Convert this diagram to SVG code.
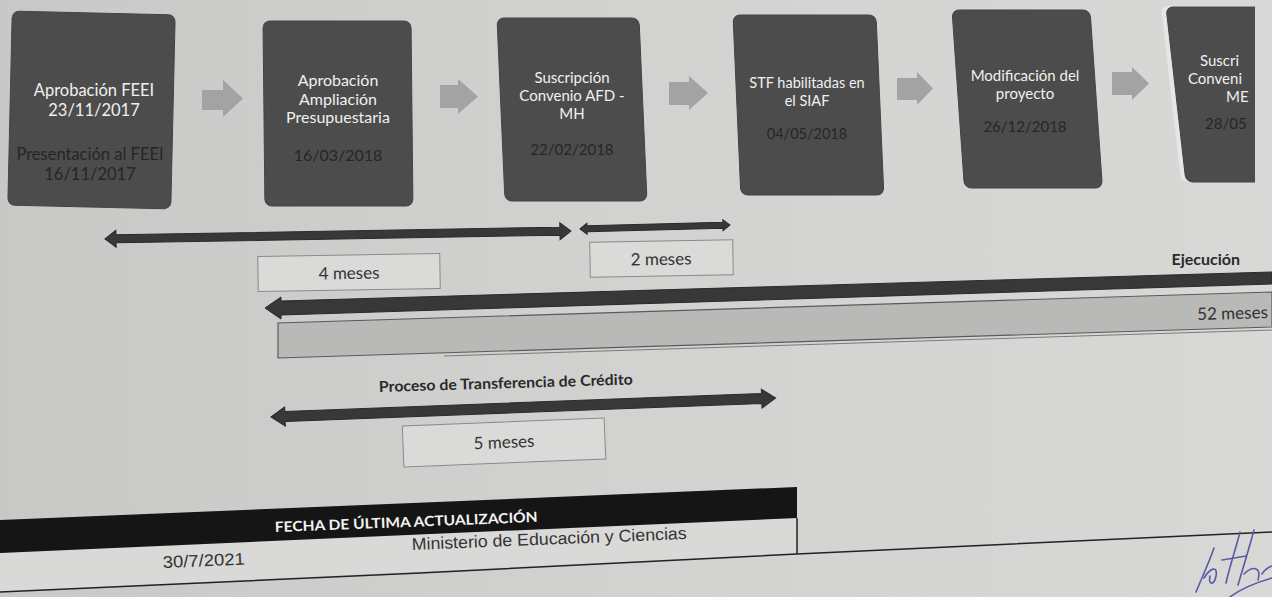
<svg xmlns="http://www.w3.org/2000/svg" width="1272" height="597" viewBox="0 0 1272 597">
<defs>
<linearGradient id="bg" x1="0" y1="0" x2="1" y2="0">
<stop offset="0" stop-color="#c8c8c6"/>
<stop offset="0.5" stop-color="#d2d2d0"/>
<stop offset="1" stop-color="#d8d8d6"/>
</linearGradient>
<clipPath id="clip6"><rect x="1150" y="0" width="105" height="200"/></clipPath>
<style>
.box{fill:#4c4c4c;stroke:#444;stroke-width:1}
.wt{font-family:Lato,"Open Sans",sans-serif;fill:#f0f0f0;text-anchor:middle}
.dt{font-family:Lato,"Open Sans",sans-serif;fill:#262626;text-anchor:middle}
.garrow{fill:#a3a3a3}
.darrow{fill:#383838;stroke:#2a2a2a;stroke-width:1}
.lbl{fill:#dadad8;stroke:#8a8a8a;stroke-width:1}
.lt{font-family:Lato,"Open Sans",sans-serif;fill:#333;font-size:17px;text-anchor:middle}
.bt{font-family:Lato,"Open Sans",sans-serif;fill:#2a2a2a;font-weight:bold}
.tt{font-family:"Liberation Sans",Arial,sans-serif;fill:#333;font-size:17px}
</style>
</defs>
<rect x="0" y="0" width="1272" height="597" fill="url(#bg)"/>

<g id="node1">
<rect class="box" x="10" y="13" width="163" height="194" rx="7" transform="rotate(1.3 91 110)"/>
<text class="wt" font-size="16.5" x="94" y="96">Aprobación FEEI</text>
<text class="wt" font-size="16.5" x="94" y="116">23/11/2017</text>
<text class="dt" font-size="16.5" x="90" y="160">Presentación al FEEI</text>
<text class="dt" font-size="16.5" x="90" y="180">16/11/2017</text>
</g>

<g id="node2">
<rect class="box" x="0" y="0" width="148" height="185" rx="7" transform="translate(263,21) skewX(0.6)"/>
<text class="wt" font-size="16" x="338" y="86">Aprobación</text>
<text class="wt" font-size="16" x="338" y="104.5">Ampliación</text>
<text class="wt" font-size="16" x="338" y="123">Presupuestaria</text>
<text class="dt" font-size="16" x="338" y="161">16/03/2018</text>
</g>

<g id="node3">
<rect class="box" x="0" y="0" width="142" height="183" rx="7" transform="translate(497,18) skewX(2.5)"/>
<text class="wt" font-size="15" x="572" y="83">Suscripción</text>
<text class="wt" font-size="15" x="572" y="101">Convenio AFD -</text>
<text class="wt" font-size="15" x="572" y="119">MH</text>
<text class="dt" font-size="15" x="572" y="155">22/02/2018</text>
</g>

<g id="node4">
<rect class="box" x="0" y="0" width="143" height="180" rx="7" transform="translate(733,15) skewX(2.5)"/>
<text class="wt" font-size="14.5" x="807" y="88">STF habilitadas en</text>
<text class="wt" font-size="14.5" x="807" y="106">el SIAF</text>
<text class="dt" font-size="14.5" x="807" y="139">04/05/2018</text>
</g>

<g id="node5">
<rect class="box" x="0" y="0" width="138" height="178" rx="7" transform="translate(952,10) skewX(4)"/>
<text class="wt" font-size="15" x="1025" y="81">Modificación del</text>
<text class="wt" font-size="15" x="1025" y="99">proyecto</text>
<text class="dt" font-size="15" x="1025" y="132">26/12/2018</text>
</g>

<g id="node6" clip-path="url(#clip6)">
<rect x="0" y="0" width="120" height="176" rx="7" fill="#e6e6e4" transform="translate(1161,6) skewX(6.5)"/>
<rect class="box" x="0" y="0" width="120" height="175" rx="7" transform="translate(1166,7) skewX(6.5)"/>
<text class="wt" font-size="15" x="1200" y="66" style="text-anchor:start">Suscri</text>
<text class="wt" font-size="15" x="1188" y="84" style="text-anchor:start">Conveni</text>
<text class="wt" font-size="15" x="1226" y="102" style="text-anchor:start">ME</text>
<text class="dt" font-size="15" x="1205" y="129" style="text-anchor:start">28/05</text>
</g>

<g id="connectors">
<polygon class="garrow" points="202,90 223,90 223,80 243,98.5 223,117 223,110 202,110"/>
<polygon class="garrow" points="440,85 458,85 458,79 478,96.5 458,114 458,108 440,108"/>
<polygon class="garrow" points="669,82 689,82 689,76 708,93 689,110 689,105 669,105"/>
<polygon class="garrow" points="897,78 917,78 917,72 933,88.5 917,105 917,100 897,100"/>
<polygon class="garrow" points="1112,72 1132,72 1132,67 1149,83.5 1132,100 1132,95 1112,95"/>

<path class="darrow" transform="translate(105,239) rotate(-0.98)" d="M0,0 L11,-8.5 L11,-4 L455,-4 L455,-8.5 L466,0 L455,8.5 L455,4 L11,4 L11,8.5 Z"/>
<path class="darrow" transform="translate(580,229) rotate(-1.5)" d="M0,0 L7,-5.5 L7,-3 L143,-3 L143,-5.5 L150,0 L143,5.5 L143,3 L7,3 L7,5.5 Z"/>
<path class="darrow" transform="translate(271,417) rotate(-2.15)" d="M0,0 L14,-9.5 L14,-5 L491,-5 L491,-9.5 L505,0 L491,9.5 L491,5 L14,5 L14,9.5 Z"/>
<polygon class="darrow" points="265,308 281,297 281,301 1272,272 1272,284 281,315 281,319"/>
</g>

<g id="labels">
<rect class="lbl" x="258" y="255" width="182" height="35" transform="rotate(-0.9 349 272)"/>
<text class="lt" x="349" y="279" transform="rotate(-0.9 349 272)">4 meses</text>
<rect class="lbl" x="590" y="241" width="143" height="35" transform="rotate(-1 661 258)"/>
<text class="lt" x="661" y="265" transform="rotate(-1 661 258)">2 meses</text>
<text class="bt" font-size="16" x="1240" y="265" text-anchor="end">Ejecución</text>
</g>

<g id="execution-bar">
<polygon points="278,323 1272,292 1272,327 278,358" fill="#b9b9b7" stroke="#5a5a5a" stroke-width="1.2"/>
<line x1="444" y1="356" x2="1272" y2="330" stroke="#7a7a7a" stroke-width="1"/>
<text class="lt" x="1268" y="318" style="text-anchor:end" transform="rotate(-1.7 1268 318)">52 meses</text>
</g>

<g id="transfer">
<text class="bt" font-size="15" x="379" y="392" textLength="254" lengthAdjust="spacingAndGlyphs" transform="rotate(-1.7 379 392)">Proceso de Transferencia de Crédito</text>
<rect class="lbl" x="403" y="422" width="202" height="41" transform="rotate(-2.3 504 442)"/>
<text class="lt" x="504" y="448" transform="rotate(-2.3 504 442)">5 meses</text>
</g>

<g id="table">
<polygon points="0,553 797,518 797,553 0,592" fill="#d9d9d7"/>
<polygon points="0,520 797,487 797,518 0,553" fill="#151515"/>
<line x1="797" y1="518" x2="797" y2="554" stroke="#222" stroke-width="1.5"/>
<polyline points="0,592 420,573 797,554 1272,532" fill="none" stroke="#222" stroke-width="1.5"/>
<text font-family="Lato,'Open Sans',sans-serif" font-weight="bold" font-size="14" fill="#f2f2f2" x="275" y="532" textLength="263" lengthAdjust="spacingAndGlyphs" transform="rotate(-2.2 275 532)">FECHA DE ÚLTIMA ACTUALIZACIÓN</text>
<text class="tt" x="163" y="568" textLength="82" lengthAdjust="spacingAndGlyphs" transform="rotate(-2.4 163 568)">30/7/2021</text>
<text class="tt" x="412" y="550" textLength="275" lengthAdjust="spacingAndGlyphs" transform="rotate(-2.3 412 550)">Ministerio de Educación y Ciencias</text>
</g>

<g id="signature" fill="none" stroke="#5a5aa6" stroke-width="1.6" stroke-linecap="round">
<path d="M1196,592 C1203,575 1210,560 1214,548 M1204,578 C1210,568 1218,565 1216,576 C1214,586 1208,585 1210,576 M1226,583 C1230,565 1236,548 1240,532 M1222,560 L1246,556 M1238,585 C1244,565 1250,545 1254,530 M1244,574 C1252,566 1262,566 1258,580 M1262,574 C1266,568 1272,566 1272,566 M1230,597 C1242,588 1258,582 1272,578"/>
</g>
</svg>
